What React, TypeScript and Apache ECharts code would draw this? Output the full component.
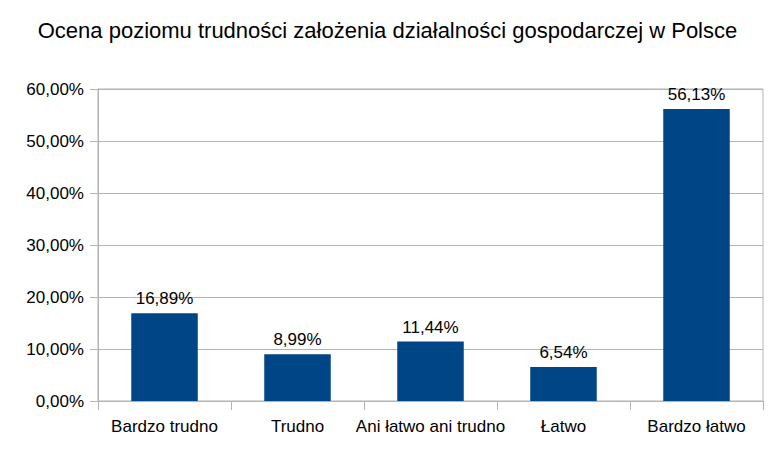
import React, { useEffect, useRef } from "react";
import * as echarts from "echarts";

const categories = ["Bardzo trudno", "Trudno", "Ani łatwo ani trudno", "Łatwo", "Bardzo łatwo"];
const values = [16.89, 8.99, 11.44, 6.54, 56.13];
const titleText = "Ocena poziomu trudności założenia działalności gospodarczej w Polsce";

const fmt = (v: number) => v.toFixed(2).replace(".", ",") + "%";

export default function App() {
  const ref = useRef<HTMLDivElement>(null);
  useEffect(() => {
    if (!ref.current) return;
    const chart = echarts.init(ref.current, undefined, { renderer: "svg" });
    const font = "Liberation Sans, Arial, sans-serif";
    chart.setOption({
      animation: false,
      backgroundColor: "#ffffff",
      textStyle: { fontFamily: font },
      title: {
        text: titleText,
        left: "center",
        top: 14,
        textStyle: { fontFamily: font, fontSize: 22, fontWeight: "normal", color: "#000000" },
      },
      grid: {
        left: 98,
        right: 12,
        top: 89,
        bottom: 61,
        show: true,
        borderColor: "#b3b3b3",
        borderWidth: 1,
        containLabel: false,
      },
      xAxis: {
        type: "category",
        data: categories,
        boundaryGap: true,
        axisLine: { show: true, lineStyle: { color: "#b3b3b3" } },
        axisTick: { show: true, length: 9, lineStyle: { color: "#b3b3b3" } },
        axisLabel: { color: "#000000", fontSize: 17, fontFamily: font, margin: 17, interval: 0 },
      },
      yAxis: {
        type: "value",
        min: 0,
        max: 60,
        interval: 10,
        axisLine: { show: true, lineStyle: { color: "#b3b3b3" } },
        axisTick: { show: true, length: 8, lineStyle: { color: "#b3b3b3" } },
        splitLine: { show: true, lineStyle: { color: "#b3b3b3" } },
        axisLabel: { color: "#000000", fontSize: 17, fontFamily: font, margin: 14, formatter: (v: number) => fmt(v) },
      },
      series: [
        {
          type: "bar",
          data: values,
          barWidth: "50%",
          itemStyle: { color: "#004586" },
          label: {
            show: true,
            position: "top",
            distance: 6,
            color: "#000000",
            fontSize: 17,
            fontFamily: font,
            formatter: (p: any) => fmt(p.value),
          },
        },
      ],
    });
    return () => chart.dispose();
  }, []);
  return <div ref={ref} style={{ position: "absolute", left: 0, top: 0, width: 775, height: 462 }} />;
}
